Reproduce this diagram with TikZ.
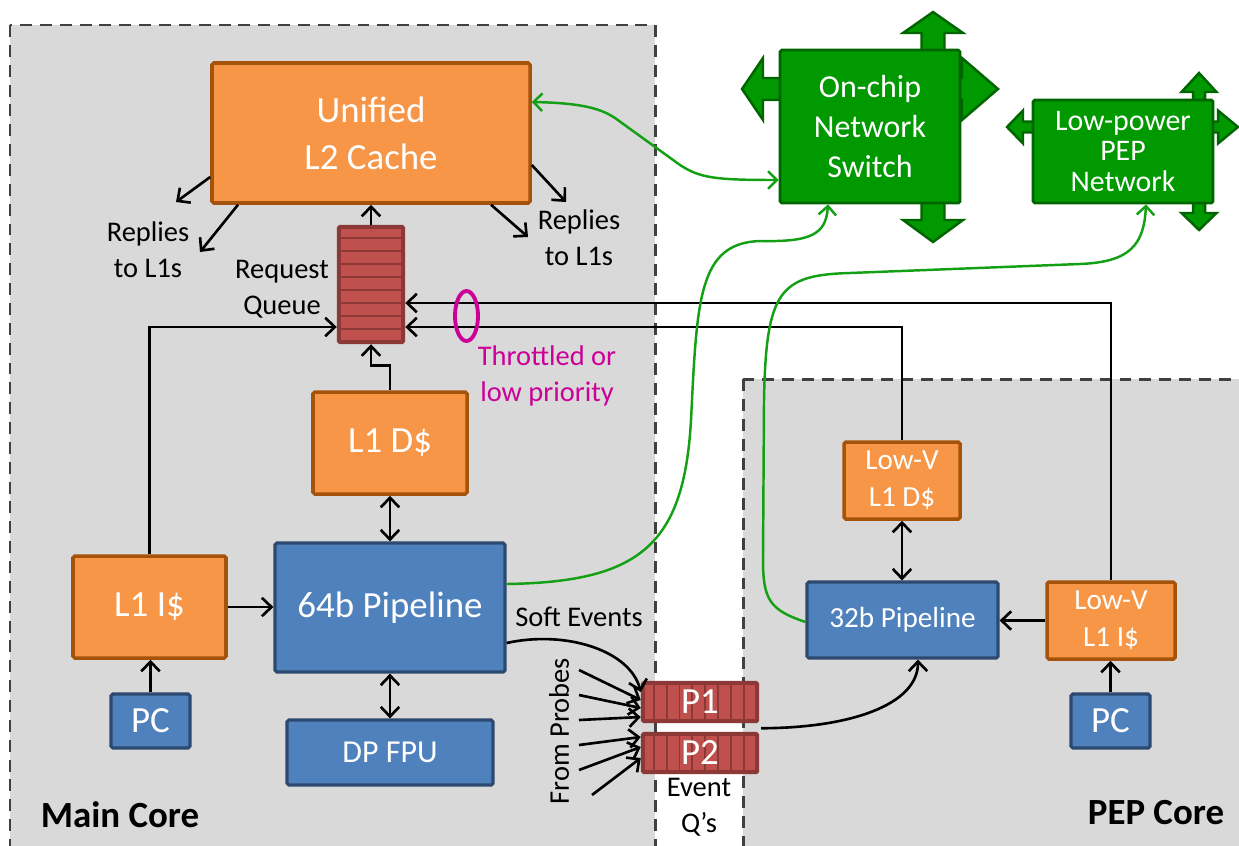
\documentclass[tikz,border=0pt]{standalone}
\usepackage{fontspec}
\setmainfont{Carlito}
\usetikzlibrary{arrows.meta,calc}
\definecolor{coregray}{HTML}{D9D9D9}
\definecolor{dashgray}{HTML}{404040}
\definecolor{orfill}{HTML}{F79646}
\definecolor{ordraw}{HTML}{A5520A}
\definecolor{blfill}{HTML}{4F81BD}
\definecolor{bldraw}{HTML}{2C4A70}
\definecolor{grfill}{HTML}{009900}
\definecolor{grdraw}{HTML}{006400}
\definecolor{qfill}{HTML}{C0504D}
\definecolor{qdraw}{HTML}{8C3836}
\definecolor{wire}{HTML}{14A014}
\definecolor{mag}{HTML}{CC0099}
\begin{document}
\begin{tikzpicture}[x=0.02cm,y=-0.02cm,
  wh/.style 2 args={minimum width=#1*0.02cm, minimum height=#2*0.02cm},
  blk/.style={rectangle, inner sep=0pt, align=center, text=white, rounded corners=1pt},
  orangebox/.style={blk, fill=orfill, draw=ordraw, line width=2pt},
  bluebox/.style={blk, fill=blfill, draw=bldraw, line width=1.8pt},
  greenbox/.style={blk, fill=grfill, draw=grdraw, line width=1.6pt},
  qbox/.style={blk, fill=qfill, draw=qdraw, line width=1.4pt},
  stripe/.style={draw=qdraw, line width=1.1pt},
  qtext/.style={inner sep=0pt, text=white, font=\fontsize{21}{25}\selectfont},
  fbig/.style={font=\fontsize{21}{26.7}\selectfont},
  fmid/.style={font=\fontsize{18.2}{22.8}\selectfont},
  fsmall/.style={font=\fontsize{16.6}{21}\selectfont},
  ftight/.style={font=\fontsize{17}{17.4}\selectfont},
  lbl/.style={inner sep=0pt, align=center, text=black, font=\fontsize{16.2}{20.5}\selectfont},
  corelbl/.style={inner sep=0pt, text=black, font=\fontsize{21}{25}\selectfont\bfseries},
  corebox/.style={fill=coregray, draw=dashgray, line width=1.7pt, dash pattern=on 6.8pt off 4.5pt},
  netarrow/.style={fill=grfill, draw=grdraw, line width=1.4pt, line join=miter},
  arr/.style={line width=1.5pt, -{Straight Barb[length=5.5pt,width=10.5pt]}},
  dbl/.style={line width=1.5pt, {Straight Barb[length=5.5pt,width=10.5pt]}-{Straight Barb[length=5.5pt,width=10.5pt]}},
  garr/.style={draw=wire, line width=1.4pt, -{Straight Barb[length=5pt,width=10pt]}},
  gdbl/.style={draw=wire, line width=1.4pt, {Straight Barb[length=5pt,width=10pt]}-{Straight Barb[length=5pt,width=10pt]}}
]
\useasboundingbox (0,0) rectangle (1239,845);
\fill[white] (0,0) rectangle (1239,845);

% core regions
\draw[corebox] (10,25) rectangle (655,880);
\draw[corebox] (743,379) rectangle (1280,880);

% network ports (block arrows behind the switches)
\draw[netarrow] (933,12) -- (963,33) -- (944.5,33) -- (944.5,220) -- (963,220) -- (933,242)
  -- (903,220) -- (921.5,220) -- (921.5,33) -- (903,33) -- cycle;
\draw[netarrow] (742,89) -- (763,58) -- (763,78) -- (962,78) -- (962,58) -- (998,89)
  -- (962,120) -- (962,100) -- (763,100) -- (763,120) -- cycle;
\draw[netarrow] (1199,73) -- (1216.5,92) -- (1205,92) -- (1205,213) -- (1216.5,213) -- (1199,230)
  -- (1181.5,213) -- (1193,213) -- (1193,92) -- (1181.5,92) -- cycle;
\draw[netarrow] (1007,127) -- (1023,110.5) -- (1023,121.5) -- (1218,121.5) -- (1218,110.5) -- (1238,127)
  -- (1218,143.5) -- (1218,132.5) -- (1023,132.5) -- (1023,143.5) -- cycle;

% main core blocks
\node[orangebox, wh={318}{140}, fbig] (l2) at (371,133) {Unified\\L2 Cache};
\node[qbox, wh={66}{117}] (rq) at (371,284.5) {};
\node[orangebox, wh={154}{102}, fbig] (l1d) at (390,443) {L1 D\$};
\node[bluebox, wh={230}{129}, fbig] (pipe64) at (390,607.5) {64b Pipeline};
\node[orangebox, wh={153}{102}, fbig] (l1i) at (149.5,607) {L1 I\$};
\node[bluebox, wh={79}{54}, fbig] (pc1) at (150.5,721) {PC};
\node[bluebox, wh={206}{65}, fmid] (fpu) at (390,752.5) {DP FPU};

% event queues
\node[qbox, wh={116}{40}] (p1) at (700,702) {};
\node[qbox, wh={116}{40}] (p2) at (700,753) {};

% networks
\node[greenbox, wh={180}{153}, fmid] (sw) at (870,126.5) {On-chip\\Network\\Switch};
\node[greenbox, wh={180}{103}, ftight] (lpn) at (1123,151.5) {Low-power\\PEP\\Network};

% PEP core blocks
\node[orangebox, wh={116}{77}, fsmall] (lvd) at (902,480.5) {Low-V\\L1 D\$};
\node[bluebox, wh={191}{76}, fsmall] (pipe32) at (902.5,620) {32b Pipeline};
\node[orangebox, wh={128}{77}, fsmall] (lvi) at (1111,620.5) {Low-V\\L1 I\$};
\node[bluebox, wh={79}{54}, fbig] (pc2) at (1110.5,721) {PC};

% queue cells
\draw[stripe] ($(rq.north west)+(3,3)$) rectangle ($(rq.south east)+(-3,-3)$);
\foreach \k in {1,...,8}
  \draw[stripe] ($(rq.north west)+(3,\k*13)$) -- ($(rq.north east)+(-3,\k*13)$);
\foreach \q in {p1,p2} {
  \draw[stripe] ($(\q.north west)+(3,3)$) rectangle ($(\q.south east)+(-3,-3)$);
  \foreach \k in {1,...,8}
    \draw[stripe] ($(\q.north west)+(\k*12.9,3)$) -- ($(\q.south west)+(\k*12.9,-3)$);
}
\node[qtext] (p1t) at (p1) {P1};
\node[qtext] (p2t) at (p2) {P2};

% request path
\draw[arr] (rq.north) -- (rq.north |- l2.south);
\draw[arr] (l1d.north) -- ++(0,-25) -| (rq.south);
\draw[arr] (l1i.north) |- (rq.west |- 0,327);
\draw[arr] (lvd.north) |- (rq.east |- 0,327);
\draw[arr] (lvi.north) |- (rq.east |- 0,303);

% replies
\coordinate (rl1) at (176,202);
\coordinate (rl2) at (200,252);
\coordinate (rr1) at (566,202);
\coordinate (rr2) at (528,237);
\draw[arr] (l2.west |- 0,177) -- (rl1);
\draw[arr] (l2.south -| 238,0) -- (rl2);
\draw[arr] (l2.east |- 0,165) -- (rr1);
\draw[arr] (l2.south -| 491,0) -- (rr2);

% core datapaths
\draw[arr] (l1i.east) -- (l1i.east -| pipe64.west);
\draw[arr] (pc1.north) -- (pc1.north |- l1i.south);
\draw[dbl] (l1d.south) -- (l1d.south |- pipe64.north);
\draw[dbl] (pipe64.south) -- (pipe64.south |- fpu.north);
\draw[dbl] (lvd.south) -- (lvd.south |- pipe32.north);
\draw[arr] (lvi.west) -- (lvi.west -| pipe32.east);
\draw[arr] (pc2.north) -- (pc2.north |- lvi.south);

% events
\draw[arr] (pipe64.east |- 0,643) .. controls (565,630) and (630,650) .. (p1.west |- 0,692);
\coordinate (pr1) at (579,670);
\coordinate (pr2) at (579,695);
\coordinate (pr3) at (579,720);
\coordinate (pr4) at (579,745);
\coordinate (pr5) at (579,770);
\coordinate (pr6) at (592,795);
\draw[arr] (pr1) -- (p1.west |- 0,700);
\draw[arr] (pr2) -- (p1.west |- 0,708);
\draw[arr] (pr3) -- (p1.west |- 0,717);
\draw[arr] (pr4) -- (p2.west |- 0,737);
\draw[arr] (pr5) -- (p2.west |- 0,747);
\draw[arr] (pr6) -- (p2.west |- 0,758);
\draw[arr] ($(p1.south east)+(2,5)$) .. controls (850,728) and (918,705) .. (pipe32.south -| 918,0);

% network links
\draw[gdbl] (l2.east |- 0,102) .. controls (580,103) and (600,108) .. (615,118) -- (680,165)
  .. controls (700,178) and (715,180) .. (sw.west |- 0,180);
\draw[garr] (pipe64.east |- 0,584) .. controls (640,582) and (684,545) .. (691,420)
  .. controls (697,300) and (698,243) .. (760,241)
  .. controls (810,242) and (826,235) .. (sw.south -| 828,0);
\draw[garr] (pipe32.west |- 0,622) .. controls (770,610) and (763,600) .. (763,560) -- (764,400)
  .. controls (766,290) and (780,275) .. (850,273) -- (1080,264)
  .. controls (1130,262) and (1144,245) .. (lpn.south -| 1146,0);

% throttling mark
\draw[mag, line width=2.2pt] (466.5,316) ellipse [x radius=11.5, y radius=25];

% labels
\node[lbl] (repl) at (148,250) {Replies\\to L1s};
\node[lbl] (repr) at (579,238) {Replies\\to L1s};
\node[lbl] (rqlab) at (282,289) {Request\\Queue};
\node[lbl, text=mag] (thr) at (547,376) {Throttled or\\low priority};
\node[lbl] (soft) at (579,617) {Soft Events};
\node[lbl, rotate=90] (probes) at (559,731) {From Probes};
\node[lbl] (evq) at (699,807) {Event\\Q’s};
\node[corelbl] (mainlbl) at (120,815) {Main Core};
\node[corelbl] (peplbl) at (1156,813) {PEP Core};
\end{tikzpicture}
\end{document}
